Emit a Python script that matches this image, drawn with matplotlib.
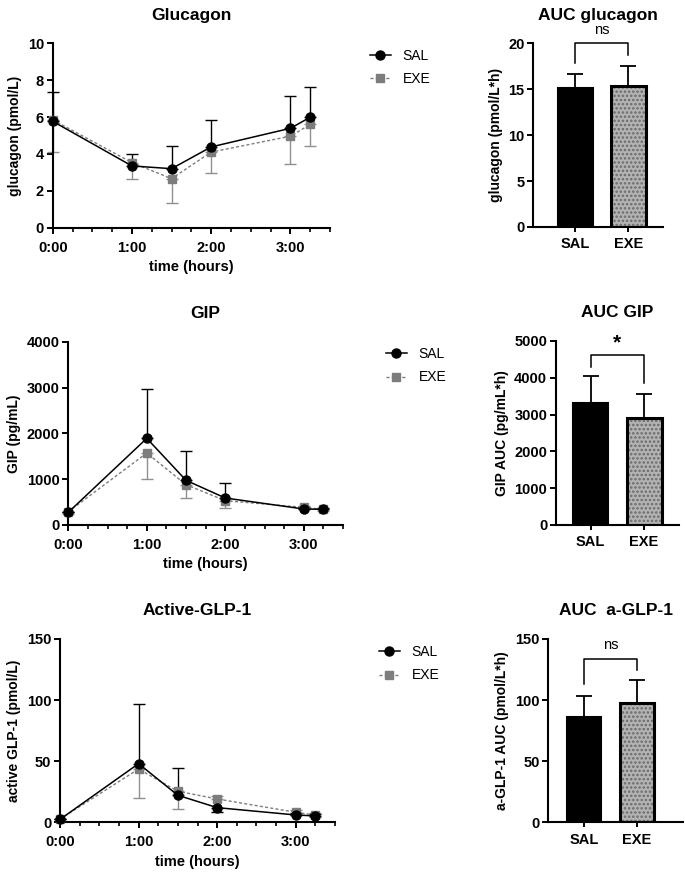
import matplotlib
matplotlib.use("Agg")
import matplotlib.pyplot as plt
from matplotlib.ticker import MultipleLocator

plt.rcParams['font.family'] = ['Liberation Sans', 'DejaVu Sans']
plt.rcParams['hatch.linewidth'] = 1.2

W, H = 685, 873

# tiempos de muestreo (horas)
tiempo = [0, 1, 1.5, 2, 3, 3.25]
tick_horas = [0, 1, 2, 3]
tick_labels = ["0:00", "1:00", "2:00", "3:00"]
grupos = ["SAL", "EXE"]

# glucagon (pmol/L)
glu_sal = [5.77, 3.35, 3.20, 4.38, 5.39, 5.99]
glu_sal_lo = [0, 0, 0, 0, 0, 0]
glu_sal_hi = [1.57, 0.63, 1.25, 1.48, 1.77, 1.66]
glu_exe = [5.85, 3.53, 2.66, 4.10, 4.96, 5.60]
glu_exe_lo = [1.73, 0.87, 1.30, 1.13, 1.51, 1.17]
glu_exe_hi = [0, 0, 0, 0, 0, 0]

# GIP (pg/mL)
gip_sal = [277, 1891, 975, 589, 349, 342]
gip_sal_lo = [0, 0, 0, 0, 0, 0]
gip_sal_hi = [0, 1069, 632, 320, 50, 30]
gip_exe = [290, 1571, 880, 531, 385, 340]
gip_exe_lo = [50, 574, 284, 153, 40, 30]
gip_exe_hi = [0, 0, 0, 0, 40, 0]

# active GLP-1 (pmol/L)
glp_sal = [2.4, 48.0, 22.1, 12.0, 6.0, 5.2]
glp_sal_lo = [0, 0, 0, 3.3, 0, 0]
glp_sal_hi = [0, 48.8, 22.1, 0, 2.0, 1.5]
glp_exe = [2.6, 43.6, 25.4, 19.1, 8.2, 5.9]
glp_exe_lo = [0, 24.0, 14.5, 0, 2.0, 1.5]
glp_exe_hi = [0, 0, 0, 2.4, 2.0, 1.5]

# AUC
auc_glu = [15.17, 15.39]
auc_glu_err = [1.49, 2.14]
auc_gip = [3306, 2908]
auc_gip_err = [734, 652]
auc_glp = [85.9, 97.9]
auc_glp_err = [17.5, 18.3]

GRIS = "#7d7d7d"
GRIS_ERR = "#8f8f8f"


def ejes_px(fig, l, r, t, b):
    return fig.add_axes([l / W, 1 - b / H, (r - l) / W, (b - t) / H])


def estilo(ax):
    for s in ["top", "right"]:
        ax.spines[s].set_visible(False)
    for s in ["left", "bottom"]:
        ax.spines[s].set_linewidth(1.5)
    ax.tick_params(which="major", length=4.3, width=1.4, labelsize=10.5, pad=2)
    ax.tick_params(which="minor", length=3.2, width=1.2)
    for lab in ax.get_xticklabels() + ax.get_yticklabels():
        lab.set_fontweight("bold")


def panel_linea(ax, sal, sal_lo, sal_hi, exe, exe_lo, exe_hi, ymax, ystep,
                titulo, ylabel, leg_x, leg_y):
    ax.errorbar(tiempo, exe, yerr=[exe_lo, exe_hi], fmt="none", ecolor=GRIS_ERR,
                elinewidth=1.0, capsize=4, capthick=1.0, clip_on=False, zorder=2)
    ax.errorbar(tiempo, sal, yerr=[sal_lo, sal_hi], fmt="none", ecolor="black",
                elinewidth=1.0, capsize=4, capthick=1.0, clip_on=False, zorder=3)
    l2, = ax.plot(tiempo, exe, color=GRIS, ls=(0, (2.2, 1.6)), lw=1.0, marker="s",
                  ms=5.5, mfc=GRIS, mec=GRIS, clip_on=False, zorder=4, label="EXE")
    l1, = ax.plot(tiempo, sal, color="black", lw=1.1, marker="o", ms=6.5,
                  mfc="black", mec="black", clip_on=False, zorder=5, label="SAL")
    ax.set_xlim(0, 3.5)
    ax.set_ylim(0, ymax)
    ax.set_xticks(tick_horas)
    ax.set_xticklabels(tick_labels)
    ax.xaxis.set_minor_locator(MultipleLocator(0.25))
    ax.yaxis.set_major_locator(MultipleLocator(ystep))
    estilo(ax)
    ax.tick_params(axis="x", which="major", pad=5)
    ax.set_title(titulo, fontsize=12.5, fontweight="bold", pad=17)
    ax.set_xlabel("time (hours)", fontsize=10.5, fontweight="bold", labelpad=4)
    ax.set_ylabel(ylabel, fontsize=10, fontweight="bold", labelpad=4)
    ax.legend(handles=[l1, l2], loc="center left",
              bbox_to_anchor=(leg_x / W, 1 - leg_y / H),
              bbox_transform=ax.figure.transFigure, frameon=False,
              fontsize=10, handlelength=1.5, handletextpad=0.85,
              labelspacing=0.7, borderpad=0, borderaxespad=0, numpoints=1)


def panel_auc(ax, vals, errs, ymax, ystep, xlim, ancho, titulo, ylabel,
              brk_top, brk_izq, brk_der, marca, marca_y):
    x = [0, 1]
    ax.errorbar(x, vals, yerr=[[0, 0], errs], fmt="none", ecolor="black",
                elinewidth=1.3, capsize=5.5, capthick=1.3, zorder=1)
    ax.bar(x[0], vals[0], width=ancho, color="black", edgecolor="black",
           lw=1.5, zorder=2)
    ax.bar(x[1], vals[1], width=ancho, color="#b3b3b3", edgecolor="#6a6a6a",
           hatch="....", lw=0, zorder=2)
    ax.bar(x[1], vals[1], width=ancho, fill=False, edgecolor="black",
           lw=2.2, zorder=3)
    ax.plot([0, 0, 1, 1], [brk_izq, brk_top, brk_top, brk_der], color="black",
            lw=1.1, clip_on=False, zorder=4)
    if marca == "*":
        ax.text(0.5, marca_y, marca, ha="center", va="center", fontsize=15,
                fontweight="bold", clip_on=False)
    else:
        ax.text(0.5, marca_y, marca, ha="center", va="center", fontsize=10.5,
                clip_on=False)
    ax.set_xlim(*xlim)
    ax.set_ylim(0, ymax)
    ax.set_xticks(x)
    ax.set_xticklabels(grupos)
    ax.yaxis.set_major_locator(MultipleLocator(ystep))
    estilo(ax)
    ax.tick_params(axis="x", which="major", length=3.5, pad=4)
    ax.set_title(titulo, fontsize=12.5, fontweight="bold", pad=17)
    ax.set_ylabel(ylabel, fontsize=10, fontweight="bold", labelpad=4)


fig = plt.figure(figsize=(W / 100, H / 100), dpi=100)

ax1 = ejes_px(fig, 52.7, 330, 43.3, 227.7)
panel_linea(ax1, glu_sal, glu_sal_lo, glu_sal_hi, glu_exe, glu_exe_lo, glu_exe_hi,
            10, 2, "Glucagon", "glucagon (pmol/L)", 370, 67.5)

ax2 = ejes_px(fig, 533.3, 663, 43.3, 227)
panel_auc(ax2, auc_glu, auc_glu_err, 20, 5, (-0.796, 1.651), 0.66,
          "AUC glucagon", "glucagon (pmol/L*h)", 20, 17.9, 18.7, "ns", 21.4)

ax3 = ejes_px(fig, 68.3, 343, 341.7, 525)
panel_linea(ax3, gip_sal, gip_sal_lo, gip_sal_hi, gip_exe, gip_exe_lo, gip_exe_hi,
            4000, 1000, "GIP", "GIP (pg/mL)", 386, 365.5)

ax4 = ejes_px(fig, 556, 679, 341, 525)
panel_auc(ax4, auc_gip, auc_gip_err, 5000, 1000, (-0.645, 1.654), 0.654,
          "AUC GIP", "GIP AUC (pg/mL*h)", 4620, 4302, 3868, "*", 4960)

ax5 = ejes_px(fig, 60, 335, 639, 822.3)
panel_linea(ax5, glp_sal, glp_sal_lo, glp_sal_hi, glp_exe, glp_exe_lo, glp_exe_hi,
            150, 50, "Active-GLP-1", "active GLP-1 (pmol/L)", 379, 663.5)

ax6 = ejes_px(fig, 548.3, 683, 639, 822.3)
panel_auc(ax6, auc_glp, auc_glp_err, 150, 50, (-0.674, 1.868), 0.64,
          "AUC  a-GLP-1", "a-GLP-1 AUC (pmol/L*h)", 133.9, 112.9, 124.6, "ns", 145)

fig.savefig("out.png", dpi=100)
